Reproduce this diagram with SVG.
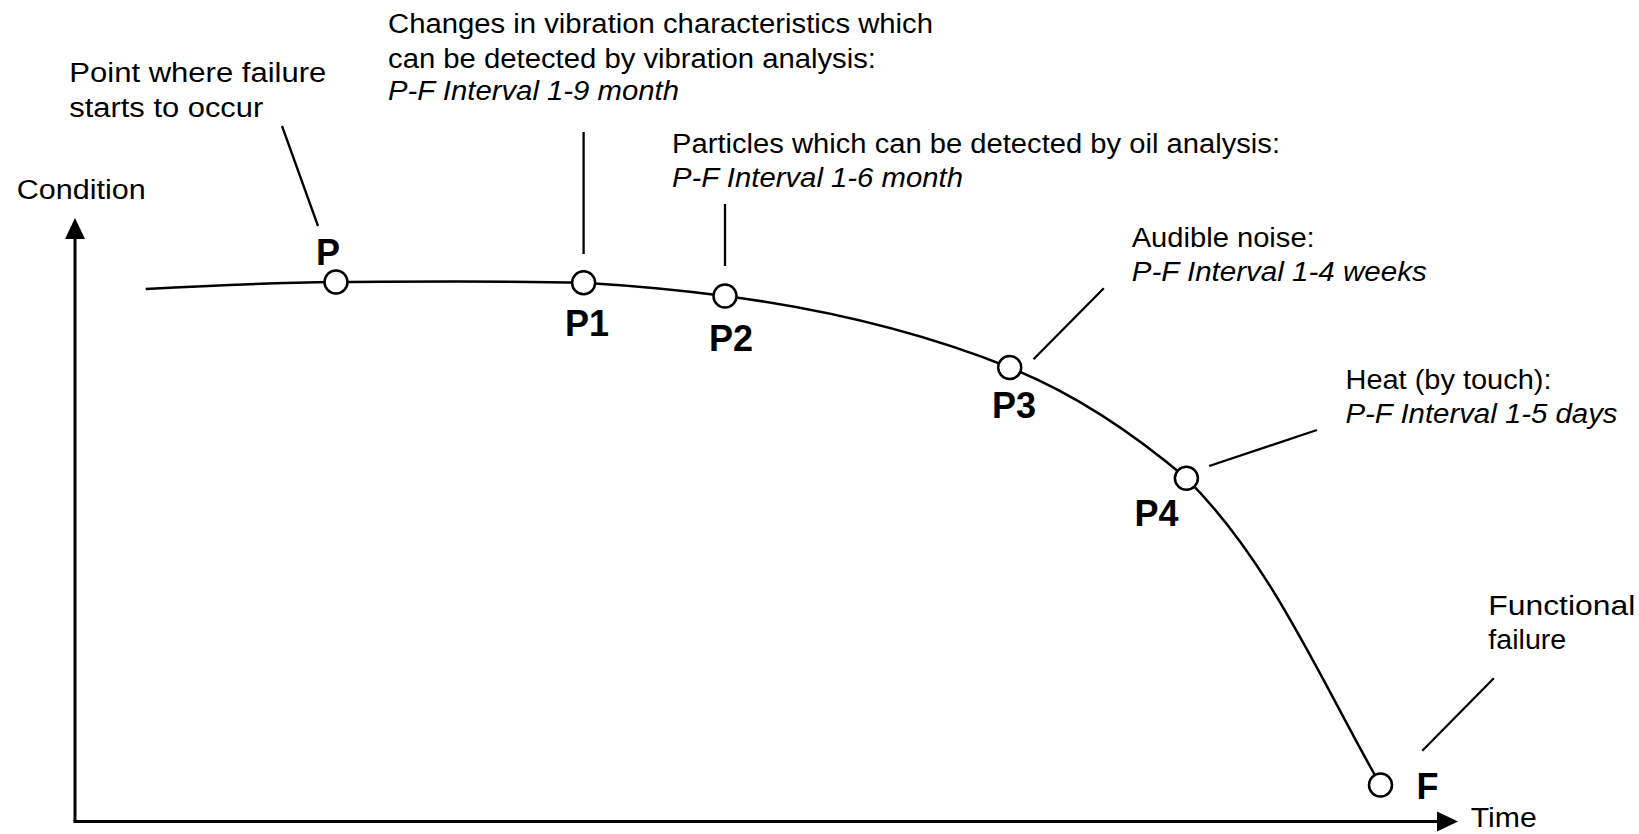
<svg xmlns="http://www.w3.org/2000/svg" width="1639" height="834" viewBox="0 0 1639 834">
  <style>
    .t { font-family: "Liberation Sans", Arial, sans-serif; font-size: 27px; fill: #000; }
    .i { font-style: italic; }
    .lbl { font-family: "Liberation Sans", Arial, sans-serif; font-size: 36px; font-weight: bold; fill: #000; text-anchor: middle; }
    .pt { fill: #fff; stroke: #000; stroke-width: 2.5; }
    .lead { stroke: #000; stroke-width: 2.3; fill: none; }
    .curve { stroke: #000; stroke-width: 2.5; fill: none; }
    .axis { stroke: #000; stroke-width: 3; fill: none; }
  </style>
  <rect width="1639" height="834" fill="#fff"/>

  <g id="axes">
    <line class="axis" x1="75" y1="236" x2="75" y2="821.5"/>
    <line class="axis" x1="73.5" y1="821.5" x2="1441" y2="821.5"/>
    <polygon points="75,218 65,239 85,239" fill="#000"/>
    <polygon points="1458,821.5 1437,811.5 1437,831.5" fill="#000"/>
    <text class="t" x="16.7" y="199" textLength="129" lengthAdjust="spacingAndGlyphs">Condition</text>
    <text class="t" x="1470.7" y="827" textLength="66" lengthAdjust="spacingAndGlyphs">Time</text>
  </g>

  <g id="connectors">
    <path class="curve" d="M145.7,289 C200,286 260,283 336,282 C420,281.5 510,280.8 583.6,282.7 C630,285.5 680,290 725,296 C820,308.4 919.7,331.5 1009.7,367.5 C1073.7,393.1 1133.8,433.6 1186.4,478.3 C1272,563.9 1320.5,680 1380.5,785"/>
    <line class="lead" x1="282" y1="126" x2="318" y2="226"/>
    <line class="lead" x1="583.6" y1="132" x2="583.6" y2="254"/>
    <line class="lead" x1="725" y1="204" x2="725" y2="266"/>
    <line class="lead" x1="1033.5" y1="359.3" x2="1103.8" y2="288.3"/>
    <line class="lead" x1="1209.2" y1="466" x2="1316.9" y2="430"/>
    <line class="lead" x1="1422.3" y1="750.7" x2="1493.8" y2="678.3"/>
  </g>

  <g id="node-P">
    <circle class="pt" cx="336" cy="282" r="11.5"/>
    <text class="lbl" x="328" y="265">P</text>
    <text class="t" x="69.3" y="82" textLength="257" lengthAdjust="spacingAndGlyphs">Point where failure</text>
    <text class="t" x="69.3" y="116.5" textLength="194" lengthAdjust="spacingAndGlyphs">starts to occur</text>
  </g>

  <g id="node-P1">
    <circle class="pt" cx="583.6" cy="282.7" r="11.5"/>
    <text class="lbl" x="587" y="336">P1</text>
    <text class="t" x="388" y="33" textLength="545" lengthAdjust="spacingAndGlyphs">Changes in vibration characteristics which</text>
    <text class="t" x="388" y="67.5" textLength="488" lengthAdjust="spacingAndGlyphs">can be detected by vibration analysis:</text>
    <text class="t i" x="388" y="100" textLength="291" lengthAdjust="spacingAndGlyphs">P-F Interval 1-9 month</text>
  </g>

  <g id="node-P2">
    <circle class="pt" cx="725" cy="296" r="11.5"/>
    <text class="lbl" x="731" y="351">P2</text>
    <text class="t" x="672" y="153.3" textLength="608" lengthAdjust="spacingAndGlyphs">Particles which can be detected by oil analysis:</text>
    <text class="t i" x="672" y="186.7" textLength="291" lengthAdjust="spacingAndGlyphs">P-F Interval 1-6 month</text>
  </g>

  <g id="node-P3">
    <circle class="pt" cx="1009.7" cy="367.5" r="11.5"/>
    <text class="lbl" x="1014" y="418">P3</text>
    <text class="t" x="1131.7" y="247" textLength="183" lengthAdjust="spacingAndGlyphs">Audible noise:</text>
    <text class="t i" x="1131.7" y="281" textLength="295" lengthAdjust="spacingAndGlyphs">P-F Interval 1-4 weeks</text>
  </g>

  <g id="node-P4">
    <circle class="pt" cx="1186.4" cy="478.3" r="11.5"/>
    <text class="lbl" x="1156.5" y="526">P4</text>
    <text class="t" x="1345.5" y="389" textLength="206" lengthAdjust="spacingAndGlyphs">Heat (by touch):</text>
    <text class="t i" x="1345.5" y="423" textLength="272" lengthAdjust="spacingAndGlyphs">P-F Interval 1-5 days</text>
  </g>

  <g id="node-F">
    <circle class="pt" cx="1380.5" cy="785" r="11.5"/>
    <text class="lbl" x="1427.5" y="798.5">F</text>
    <text class="t" x="1488.3" y="615" textLength="147" lengthAdjust="spacingAndGlyphs">Functional</text>
    <text class="t" x="1488.3" y="649" textLength="78" lengthAdjust="spacingAndGlyphs">failure</text>
  </g>
</svg>
